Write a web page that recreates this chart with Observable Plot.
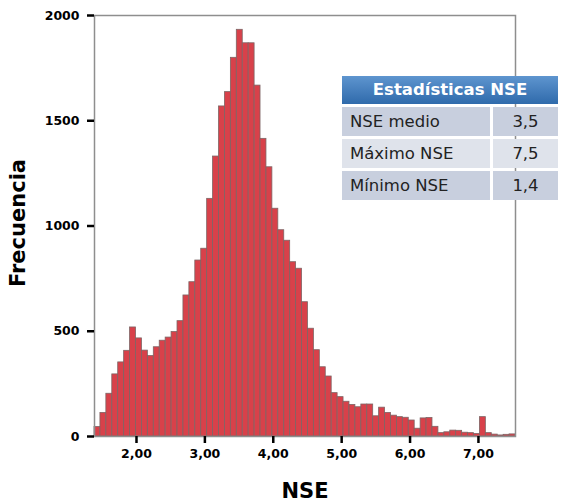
<!DOCTYPE html>
<html><head><meta charset="utf-8">
<script src="https://cdn.jsdelivr.net/npm/d3@7"></script>
<script src="https://cdn.jsdelivr.net/npm/@observablehq/plot@0.6"></script>
<style>
body{margin:0;background:#fff;}
#wrap{position:relative;width:564px;height:502px;}
#stats{position:absolute;left:342px;top:76px;width:216px;display:grid;grid-template-columns:148px 65px;column-gap:3px;row-gap:3px;font-family:"DejaVu Sans",sans-serif;}
#stats .hd{grid-column:1 / span 2;height:28px;line-height:28px;text-align:center;color:#fff;font-weight:bold;font-size:16.5px;background:linear-gradient(#5e95cf,#2f6aab);}
#stats .c{height:29px;line-height:29px;font-size:16.5px;color:#222;}
#stats .l{padding-left:8px;}
#stats .v{text-align:center;}
#stats .dark{background:#c8cfde;}
#stats .light{background:#dfe3eb;}
</style></head><body><div id="wrap"></div>
<script>
const counts = [45,112,203,295,352,407,518,466,408,382,424,455,470,496,548,670,733,836,892,1129,1330,1568,1636,1799,1932,1868,1868,1667,1414,1279,1082,980,930,828,797,638,512,410,329,285,206,187,165,150,139,152,152,96,137,112,99,92,89,76,37,86,88,46,16,20,28,27,18,16,12,92,16,9,5,8,10];
const binStart = 1.386;
const binWidth = 0.0867;
const xTicks = [2,3,4,5,6,7];
const yTicks = [0,500,1000,1500,2000];
const xTitle = "NSE";
const yTitle = "Frecuencia";
const tableTitle = "Estadísticas NSE";
const statLabels = ["NSE medio","Máximo NSE","Mínimo NSE"];
const statValues = ["3,5","7,5","1,4"];

const bins = counts.map((c,i)=>({x1: binStart+i*binWidth, x2: binStart+(i+1)*binWidth, count:c}));

const chart = Plot.plot({
  width:564, height:502,
  marginLeft:94, marginRight:49, marginTop:15, marginBottom:66,
  style:{fontFamily:"DejaVu Sans", background:"white", color:"black"},
  x:{domain:[binStart, binStart+counts.length*binWidth]},
  y:{domain:[0,2000]},
  marks:[
    Plot.rect(bins,{x1:"x1",x2:"x2",y1:()=>0,y2:"count",fill:"#d8414a",stroke:"#7d6565",strokeWidth:0.8,inset:0}),
    Plot.frame({stroke:"#8e8e8e",strokeWidth:1.5}),
    Plot.axisY({ticks:yTicks,tickSize:7,tickPadding:8,strokeWidth:2.5,stroke:"black",fill:"black",fontSize:12.5,fontWeight:"bold",tickFormat:d=>String(d),label:null}),
    Plot.axisX({ticks:xTicks,tickSize:7,tickPadding:6,strokeWidth:2.5,stroke:"black",fill:"black",fontSize:12.5,fontWeight:"bold",tickFormat:d=>d.toFixed(2).replace(".",","),label:null}),
    Plot.text([yTitle],{frameAnchor:"left",textAnchor:"middle",dx:-76,dy:-3,rotate:-90,fontSize:21,fontWeight:"bold",fill:"black"}),
    Plot.text([xTitle],{frameAnchor:"bottom",dy:55,lineAnchor:"middle",fontSize:21,fontWeight:"bold",fill:"black"})
  ]
});
const wrap = document.getElementById("wrap");
wrap.appendChild(chart);
const tbl = document.createElement("div");
tbl.id = "stats";
const hd = document.createElement("div");
hd.className = "hd"; hd.textContent = tableTitle; tbl.appendChild(hd);
statLabels.forEach((lab,i)=>{
  const cls = i%2===0 ? "dark" : "light";
  const a = document.createElement("div"); a.className = "c l "+cls; a.textContent = lab;
  const b = document.createElement("div"); b.className = "c v "+cls; b.textContent = statValues[i];
  tbl.appendChild(a); tbl.appendChild(b);
});
wrap.appendChild(tbl);
</script>
</body></html>
